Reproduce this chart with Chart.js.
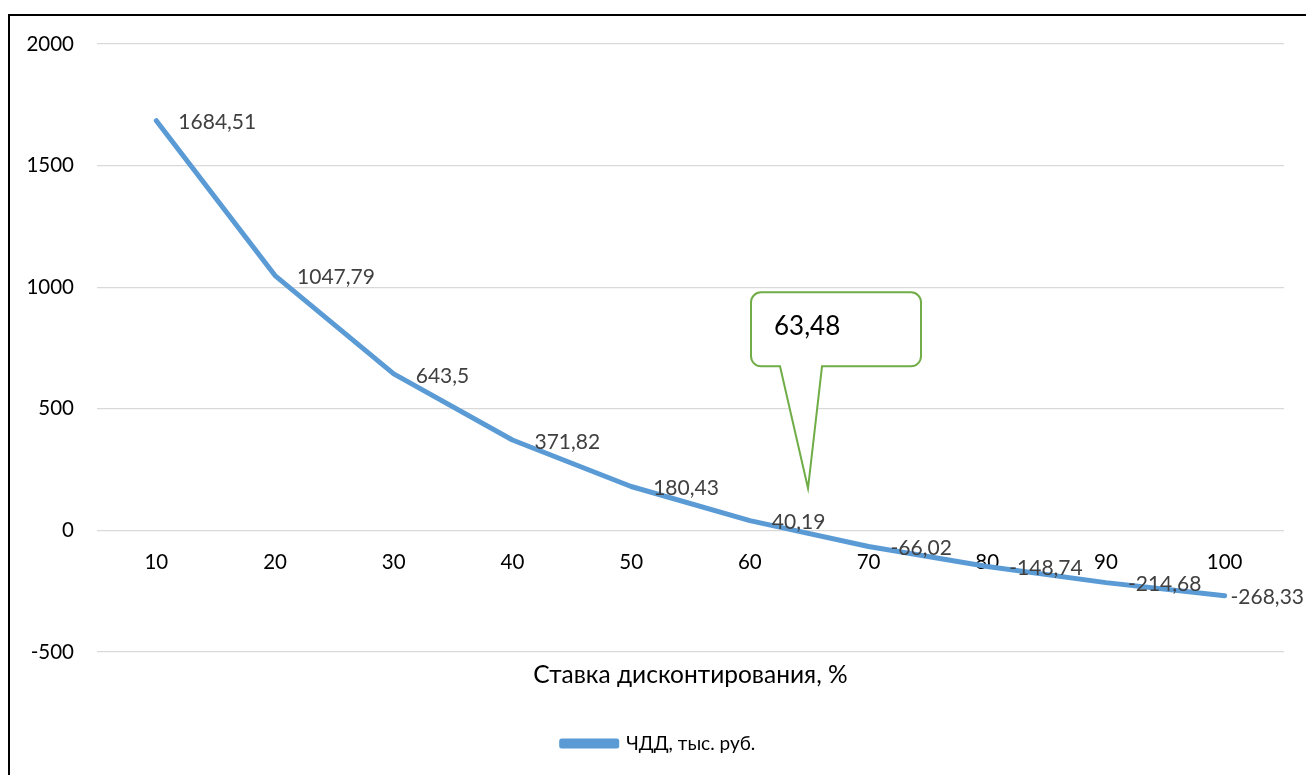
<!DOCTYPE html>
<html lang="ru">
<head>
<meta charset="utf-8">
<title>ЧДД, тыс. руб.</title>
<script src="https://cdn.jsdelivr.net/npm/chart.js@4.4.1/dist/chart.umd.min.js"></script>
<style>
  html, body { margin: 0; padding: 0; background: #fff; overflow: hidden; }
  #frame {
    position: absolute; left: 8px; top: 14px; width: 1400px; height: 900px;
    border: 2px solid #000; box-sizing: border-box;
  }
  #wrap { position: absolute; left: 0; top: 0; width: 1306px; height: 775px; }
</style>
</head>
<body>
<div id="frame"></div>
<div id="wrap"><canvas id="npv" width="1306" height="775"></canvas></div>
<script>
// Discount rates (%) and net present value (thousand roubles)
const rates = ['10', '20', '30', '40', '50', '60', '70', '80', '90', '100'];
const npv = [1684.51, 1047.79, 643.5, 371.82, 180.43, 40.19, -66.02, -148.74, -214.68, -268.33];
const yTicks = [-500, 0, 500, 1000, 1500, 2000];

// Internal rate of return callout
const irrText = '63,48';
const calloutAnchorRate = 64.9;
const calloutAnchorValue = 173;

const seriesName = 'ЧДД, тыс. руб.';
const xTitle = 'Ставка дисконтирования, %';

const FONT = "Lato, 'Noto Sans', sans-serif";
const fmt = v => String(v).replace('.', ',');

// Point value labels, placed to the right of each point and kept inside the canvas
const valueLabels = {
  id: 'valueLabels',
  afterDatasetsDraw(chart) {
    const ctx = chart.ctx;
    const meta = chart.getDatasetMeta(0);
    ctx.save();
    ctx.font = '21px ' + FONT;
    ctx.fillStyle = '#404040';
    ctx.textAlign = 'left';
    ctx.textBaseline = 'middle';
    meta.data.forEach((pt, i) => {
      const text = fmt(npv[i]);
      const w = ctx.measureText(text).width;
      const x = Math.min(pt.x + 22, chart.width - 2 - w);
      ctx.fillText(text, x, pt.y + 2);
    });
    ctx.restore();
  }
};

// Let the value-axis labels use the whole left margin
const yLabelRoom = {
  id: 'yLabelRoom',
  afterLayout(chart) { chart.scales.y.left = 0; }
};

const callout = {
  id: 'callout',
  afterDraw(chart) {
    const xs = chart.scales.x, ys = chart.scales.y;
    const idx = (calloutAnchorRate - Number(rates[0])) / 10;
    const i0 = Math.floor(idx);
    const p0 = xs.getPixelForValue(i0), p1 = xs.getPixelForValue(i0 + 1);
    const tx = p0 + (p1 - p0) * (idx - i0);
    const ty = ys.getPixelForValue(calloutAnchorValue);
    const L = tx - 57, R = tx + 113, T = ty - 196, B = ty - 122, r = 10;
    const b0 = tx - 28, b1 = tx + 14;
    const ctx = chart.ctx;
    ctx.save();
    ctx.beginPath();
    ctx.moveTo(L + r, T);
    ctx.lineTo(R - r, T);
    ctx.arcTo(R, T, R, T + r, r);
    ctx.lineTo(R, B - r);
    ctx.arcTo(R, B, R - r, B, r);
    ctx.lineTo(b1, B);
    ctx.lineTo(tx, ty);
    ctx.lineTo(b0, B);
    ctx.lineTo(L + r, B);
    ctx.arcTo(L, B, L, B - r, r);
    ctx.lineTo(L, T + r);
    ctx.arcTo(L, T, L + r, T, r);
    ctx.closePath();
    ctx.fillStyle = '#fff';
    ctx.fill();
    ctx.lineWidth = 2;
    ctx.strokeStyle = '#70AD47';
    ctx.lineJoin = 'miter';
    ctx.stroke();
    ctx.font = '26px ' + FONT;
    ctx.fillStyle = '#000';
    ctx.textAlign = 'left';
    ctx.textBaseline = 'middle';
    ctx.fillText(irrText, L + 23, T + 34);
    ctx.restore();
  }
};

new Chart(document.getElementById('npv'), {
  type: 'line',
  data: {
    labels: rates,
    datasets: [{
      label: seriesName,
      data: npv,
      borderColor: '#5B9BD5',
      backgroundColor: '#5B9BD5',
      borderWidth: 5,
      borderJoinStyle: 'round',
      borderCapStyle: 'round',
      pointRadius: 0,
      pointHoverRadius: 0,
      tension: 0,
      fill: false,
      clip: false
    }]
  },
  options: {
    responsive: false,
    animation: false,
    events: [],
    layout: { padding: { left: 33, right: 22, top: 44, bottom: 12 } },
    scales: {
      x: {
        type: 'category',
        position: { y: 0 },
        offset: true,
        grid: { display: false, drawTicks: false },
        border: { display: false },
        ticks: { color: '#000', font: { family: FONT, size: 20.5 }, padding: 20, maxRotation: 0, autoSkip: false }
      },
      y: {
        min: -500,
        max: 2000,
        afterBuildTicks(scale) { scale.ticks = yTicks.map(v => ({ value: v })); },
        afterFit(scale) { scale.width = 64; },
        grid: { color: '#D9D9D9', lineWidth: 1.3, drawTicks: false },
        border: { display: false },
        ticks: {
          color: '#000',
          font: { family: FONT, size: 20.5 },
          padding: 23,
          callback: v => String(v)
        }
      }
    },
    plugins: {
      title: {
        display: true,
        text: xTitle,
        position: 'bottom',
        fullSize: false,
        weight: 500,
        color: '#000',
        font: { family: FONT, size: 24.5, weight: 'normal', lineHeight: 1.2 },
        padding: { top: 8.3, bottom: 34.3 }
      },
      legend: {
        position: 'bottom',
        labels: {
          color: '#000',
          font: { family: FONT, size: 19 },
          boxWidth: 55,
          boxHeight: 5,
          padding: 10
        }
      },
      tooltip: { enabled: false }
    }
  },
  plugins: [yLabelRoom, valueLabels, callout]
});
</script>
</body>
</html>
